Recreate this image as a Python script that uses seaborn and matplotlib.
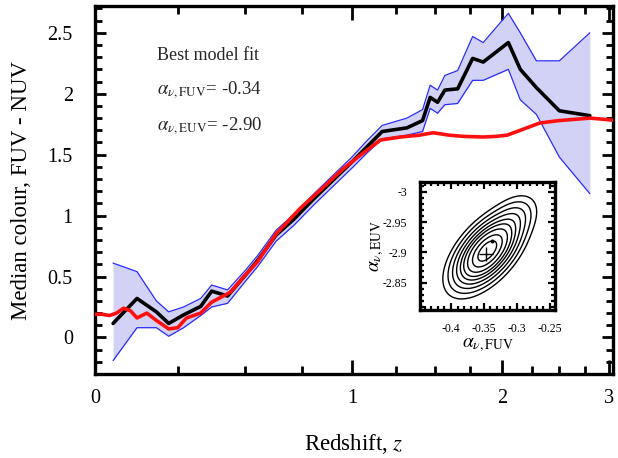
import numpy as np
import pandas as pd
import matplotlib
matplotlib.use("Agg")
import matplotlib.pyplot as plt
import seaborn as sns
from matplotlib.ticker import MultipleLocator, FixedLocator, FuncFormatter

# ---------------- data ----------------
z_med = [0.05, 0.12, 0.18, 0.22, 0.27, 0.33, 0.37, 0.43, 0.50, 0.55, 0.63, 0.71,
         0.80, 0.90, 1.00, 1.08, 1.17, 1.32, 1.42, 1.47, 1.52, 1.57, 1.66, 1.77,
         1.85, 2.05, 2.15, 2.29, 2.50, 2.80]
col_med = [0.115, 0.32, 0.21, 0.115, 0.185, 0.255, 0.38, 0.34, 0.51, 0.63, 0.84, 0.97,
           1.13, 1.29, 1.44, 1.56, 1.69, 1.72, 1.78, 1.97, 1.93, 2.03, 2.04, 2.29,
           2.26, 2.42, 2.20, 2.05, 1.86, 1.82]
col_hi = [0.61, 0.54, 0.30, 0.21, 0.25, 0.32, 0.43, 0.39, 0.55, 0.67, 0.88, 1.01,
          1.17, 1.33, 1.48, 1.61, 1.74, 1.80, 1.87, 2.07, 2.03, 2.15, 2.19, 2.47,
          2.42, 2.66, 2.50, 2.27, 2.27, 2.50]
col_lo = [-0.19, 0.08, 0.08, 0.01, 0.08, 0.18, 0.25, 0.28, 0.46, 0.58, 0.79, 0.92,
          1.08, 1.24, 1.39, 1.51, 1.63, 1.66, 1.69, 1.88, 1.84, 1.91, 1.92, 2.11,
          2.11, 2.20, 1.95, 1.83, 1.48, 1.18]

z_mod = [0.00, 0.02, 0.04, 0.06, 0.08, 0.10, 0.12, 0.15, 0.18, 0.22, 0.25, 0.28,
         0.33, 0.37, 0.44, 0.49, 0.55, 0.63, 0.74, 0.85, 0.95, 1.05, 1.16, 1.28,
         1.40, 1.49, 1.60, 1.70, 1.85, 1.95, 2.04, 2.15, 2.32, 2.50, 2.65, 2.80,
         2.95, 3.08]
col_mod = [0.19, 0.19, 0.18, 0.20, 0.24, 0.22, 0.16, 0.20, 0.14, 0.07, 0.08, 0.16,
           0.20, 0.29, 0.37, 0.49, 0.62, 0.85, 1.06, 1.23, 1.38, 1.50, 1.62, 1.645,
           1.66, 1.68, 1.66, 1.65, 1.645, 1.65, 1.66, 1.70, 1.76, 1.78, 1.79, 1.80,
           1.79, 1.78]

# likelihood surface for the inset (chi-square like), built from two components
comp_fuv = [-0.345, -0.305]
comp_euv = [-2.902, -2.955]
comp_sfuv = [0.0235, 0.018]
comp_seuv = [0.0275, 0.020]
comp_rho = [-0.58, -0.4]
comp_w = [1.0, 0.08]
chi_levels = [0.36, 0.9, 1.6, 2.3, 3.0, 3.9, 5.0, 6.4, 8.2]
best_fuv, best_euv = [-0.347], [-2.897]
peak_fuv, peak_euv = [-0.338], [-2.918]

# ---------------- style ----------------
sns.set_theme(style="ticks")
plt.rcParams["font.family"] = ["Liberation Serif", "DejaVu Serif"]
plt.rcParams["mathtext.fontset"] = "stix"

fig = plt.figure(figsize=(6.18, 4.58), dpi=100)
ax = fig.add_axes([95 / 618, 1 - 374 / 458, (613 - 95) / 618, (374 - 6) / 458])

fwd = lambda z: np.log10(1 + np.clip(np.asarray(z, dtype=float), -0.999, None))
inv = lambda t: 10 ** np.asarray(t, dtype=float) - 1
ax.set_xscale("function", functions=(fwd, inv))

med = pd.DataFrame({"z": z_med, "med": col_med, "hi": col_hi, "lo": col_lo})
mod = pd.DataFrame({"z": z_mod, "col": col_mod})

ax.fill_between(med["z"], med["lo"], med["hi"], color="#d2d2f6", lw=0, zorder=1)
sns.lineplot(data=med, x="z", y="hi", color="#2a2aff", lw=0.9, ax=ax, sort=False, zorder=2)
sns.lineplot(data=med, x="z", y="lo", color="#2a2aff", lw=0.9, ax=ax, sort=False, zorder=2)
sns.lineplot(data=med, x="z", y="med", color="black", lw=2.6, ax=ax, sort=False, zorder=3)
sns.lineplot(data=mod, x="z", y="col", color="#ff1010", lw=2.6, ax=ax, sort=False, zorder=4)

ax.set_xlim(0, 3.045)
ax.set_ylim(-0.30, 2.72)
ax.xaxis.set_major_locator(FixedLocator([0, 1, 2, 3]))
ax.xaxis.set_minor_locator(FixedLocator([0.25, 0.5, 0.75, 1.25, 1.5, 1.75, 2.25, 2.5, 2.75]))
ax.yaxis.set_major_locator(MultipleLocator(0.5))
ax.yaxis.set_minor_locator(MultipleLocator(0.1))
fmt = FuncFormatter(lambda v, p: "%g" % round(v, 3))
ax.xaxis.set_major_formatter(fmt)
ax.yaxis.set_major_formatter(fmt)
ax.tick_params(which="both", direction="in", top=True, right=True, colors="black",
               labelsize=14.5, width=2.0)
ax.tick_params(axis="x", which="major", length=10, pad=11)
ax.tick_params(axis="x", which="minor", length=6)
ax.tick_params(axis="y", which="major", length=8, pad=16)
ax.tick_params(axis="y", which="minor", length=5)
for s in ax.spines.values():
    s.set_linewidth(2.4)
    s.set_color("black")
    s.set_visible(True)

ax.set_xlabel(r"Redshift, $z$", fontsize=16.5, color="black")
ax.set_ylabel("Median colour, FUV - NUV", fontsize=16.5, color="black")
ax.xaxis.set_label_coords(0.5, -0.157)
ax.yaxis.set_label_coords(-0.122, 0.5)

fig.text(157 / 618, 1 - 56 / 458, "Best model fit", fontsize=13, va="center", ha="left")
fig.text(157 / 618, 1 - 90 / 458, r"$\alpha_{\nu,\mathrm{FUV}}$= -0.34", fontsize=13.5,
         va="center", ha="left")
fig.text(157 / 618, 1 - 126 / 458, r"$\alpha_{\nu,\mathrm{EUV}}$= -2.90", fontsize=13.5,
         va="center", ha="left")

# ---------------- inset ----------------
ins = fig.add_axes([420 / 618, 1 - 310 / 458, (555 - 420) / 618, (310 - 182) / 458])
gx = np.linspace(-0.447, -0.242, 300)
gy = np.linspace(-3.016, -2.805, 300)
X, Y = np.meshgrid(gx, gy)
F = np.zeros_like(X)
for mx, my, sx, sy, r, w in zip(comp_fuv, comp_euv, comp_sfuv, comp_seuv, comp_rho, comp_w):
    dx = (X - mx) / sx
    dy = (Y - my) / sy
    Q = (dx ** 2 - 2 * r * dx * dy + dy ** 2) / (1 - r ** 2)
    F += w * np.exp(-0.5 * Q)
CHI = -2 * np.log(F / F.max())
ins.contour(X, Y, CHI, levels=chi_levels, colors="black", linewidths=1.0)
sns.scatterplot(x=best_fuv, y=best_euv, marker="+", s=90, color="black", linewidth=1.0, ax=ins, zorder=5)
sns.scatterplot(x=peak_fuv, y=peak_euv, marker="o", s=8, color="black", linewidth=0, ax=ins, zorder=5)
ins.set_xlim(-0.447, -0.242)
ins.set_ylim(-2.805, -3.016)
ins.xaxis.set_major_locator(FixedLocator([-0.4, -0.35, -0.3, -0.25]))
ins.yaxis.set_major_locator(FixedLocator([-3.0, -2.95, -2.9, -2.85]))
ins.xaxis.set_minor_locator(MultipleLocator(0.01))
ins.yaxis.set_minor_locator(MultipleLocator(0.01))
ins.xaxis.set_major_formatter(fmt)
ins.yaxis.set_major_formatter(fmt)
ins.tick_params(which="both", direction="in", top=True, right=True, colors="black",
                labelsize=8.5, width=1.6)
ins.tick_params(which="major", length=5, pad=9)
ins.tick_params(which="minor", length=3)
for s in ins.spines.values():
    s.set_linewidth(2.4)
    s.set_color("black")
ins.set_xlabel(r"$\alpha_{\nu,\mathrm{FUV}}$", fontsize=14, color="black", labelpad=1)
ins.set_ylabel(r"$\alpha_{\nu,\mathrm{EUV}}$", fontsize=14, color="black", labelpad=-2)

fig.savefig("out.png", dpi=100)
